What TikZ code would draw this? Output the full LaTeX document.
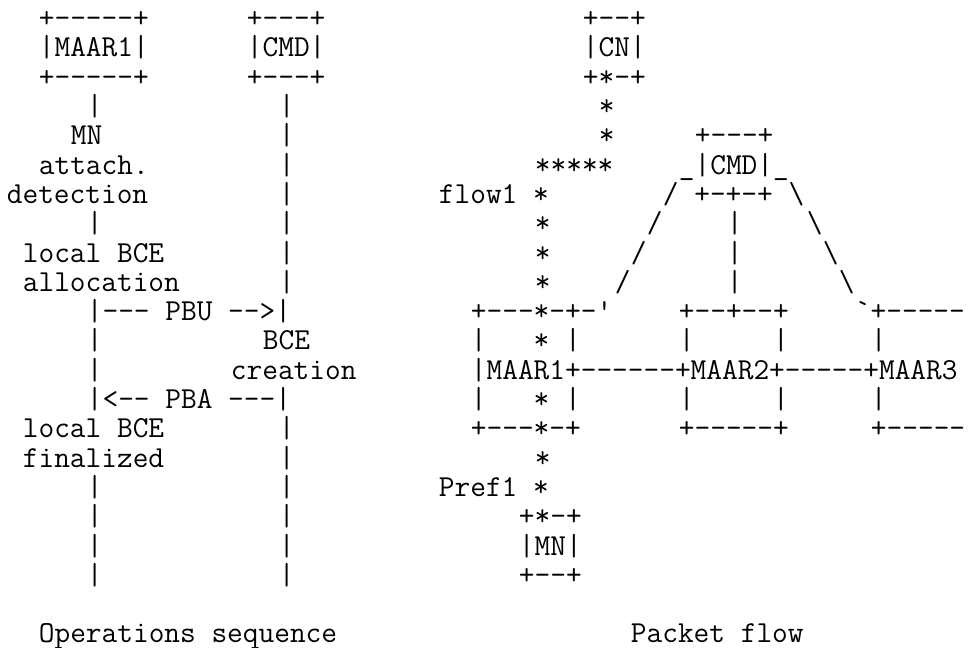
\documentclass[tikz,border=0pt]{standalone}
\usepackage{tikz}

\begin{document}
\begin{tikzpicture}[x=8pt, y=-14.65pt,
		ch/.style={anchor=base west, inner sep=0pt, xshift=-4pt, yshift=-3.8pt,
			font=\ttfamily\fontsize{15.24}{17}\selectfont}]
					\useasboundingbox (-0.906,-0.683) rectangle (59.84,21.43);

					\node[ch] (maaronet) at (2,0) {+-----+};
					\node[ch] (maarone) at (2,1) {|MAAR1|};
					\node[ch] (maaroneb) at (2,2) {+-----+};
					\node[ch] (cmdt) at (15,0) {+---+};
					\node[ch] (cmd) at (15,1) {|CMD|};
					\node[ch] (cmdb) at (15,2) {+---+};

					\node[ch] (la3) at (5,3) {|};
					\node[ch] (mnatt) at (4,4) {MN};
					\node[ch] (attach) at (2,5) {attach.};
					\node[ch] (detect) at (0,6) {detection};
					\node[ch] (la7) at (5,7) {|};
					\node[ch] (bcealloc) at (1,8) {local BCE};
					\node[ch] (alloc) at (1,9) {allocation};
					\node[ch] (pbu) at (5,10) {|--- PBU -->|};
					\node[ch] (la11) at (5,11) {|};
					\node[ch] (la12) at (5,12) {|};
					\node[ch] (pba) at (5,13) {|<-- PBA ---|};
					\node[ch] (bcefin) at (1,14) {local BCE};
					\node[ch] (final) at (1,15) {finalized};
					\node[ch] (la16) at (5,16) {|};
					\node[ch] (la17) at (5,17) {|};
					\node[ch] (la18) at (5,18) {|};
					\node[ch] (la19) at (5,19) {|};

					\node[ch] (lb3) at (17,3) {|};
					\node[ch] (lb4) at (17,4) {|};
					\node[ch] (lb5) at (17,5) {|};
					\node[ch] (lb6) at (17,6) {|};
					\node[ch] (lb7) at (17,7) {|};
					\node[ch] (lb8) at (17,8) {|};
					\node[ch] (lb9) at (17,9) {|};
					\node[ch] (bce) at (16,11) {BCE};
					\node[ch] (creat) at (14,12) {creation};
					\node[ch] (lb14) at (17,14) {|};
					\node[ch] (lb15) at (17,15) {|};
					\node[ch] (lb16) at (17,16) {|};
					\node[ch] (lb17) at (17,17) {|};
					\node[ch] (lb18) at (17,18) {|};
					\node[ch] (lb19) at (17,19) {|};

					\node[ch] (cnt) at (36,0) {+--+};
					\node[ch] (cn) at (36,1) {|CN|};
					\node[ch] (cnb) at (36,2) {+*-+};
					\node[ch] (s3) at (37,3) {*};
					\node[ch] (s4) at (37,4) {*};
					\node[ch] (s5) at (33,5) {*****};
					\node[ch] (flow) at (27,6) {flow1 *};
					\node[ch] (s7) at (33,7) {*};
					\node[ch] (s8) at (33,8) {*};
					\node[ch] (s9) at (33,9) {*};

					\node[ch] (cmdtwot) at (43,4) {+---+};
					\node[ch] (cmdtwo) at (42,5) {\_|CMD|\_};
					\node[ch] (cmdtwob) at (41,6) {/ +-+-+ \textbackslash};
					\node[ch] (sl7) at (40,7) {/};
					\node[ch] (sl8) at (39,8) {/};
					\node[ch] (sl9) at (38,9) {/};
					\node[ch] (v7) at (45,7) {|};
					\node[ch] (v8) at (45,8) {|};
					\node[ch] (v9) at (45,9) {|};
					\node[ch] (bs7) at (50,7) {\textbackslash};
					\node[ch] (bs8) at (51,8) {\textbackslash};
					\node[ch] (bs9) at (52,9) {\textbackslash};

					\node[ch] (maarat) at (29,10) {+---*-+-'};
					\node[ch] (maara) at (29,11) {|~~~*~|};
					\node[ch] (maars) at (29,12) {|MAAR1+------+MAAR2+-----+MAAR3};
					\node[ch] (maarac) at (29,13) {|~~~*~|};
					\node[ch] (maarab) at (29,14) {+---*-+};
					\node[ch] (maarbt) at (42,10) {+--+--+};
					\node[ch] (maarb) at (42,11) {|~~~~~|};
					\node[ch] (maarbc) at (42,13) {|~~~~~|};
					\node[ch] (maarbb) at (42,14) {+-----+};
					\node[ch] (maarct) at (53,10) {`+-----};
					\node[ch] (maarc) at (54,11) {|};
					\node[ch] (maarcc) at (54,13) {|};
					\node[ch] (maarcb) at (54,14) {+-----};

					\node[ch] (s15) at (33,15) {*};
					\node[ch] (pref) at (27,16) {Pref1 *};
					\node[ch] (mnt) at (32,17) {+*-+};
					\node[ch] (mn) at (32,18) {|MN|};
					\node[ch] (mnb) at (32,19) {+--+};

					\node[ch] (opseq) at (2,21) {Operations sequence};
					\node[ch] (pflow) at (39,21) {Packet flow};
				\end{tikzpicture}
\end{document}
